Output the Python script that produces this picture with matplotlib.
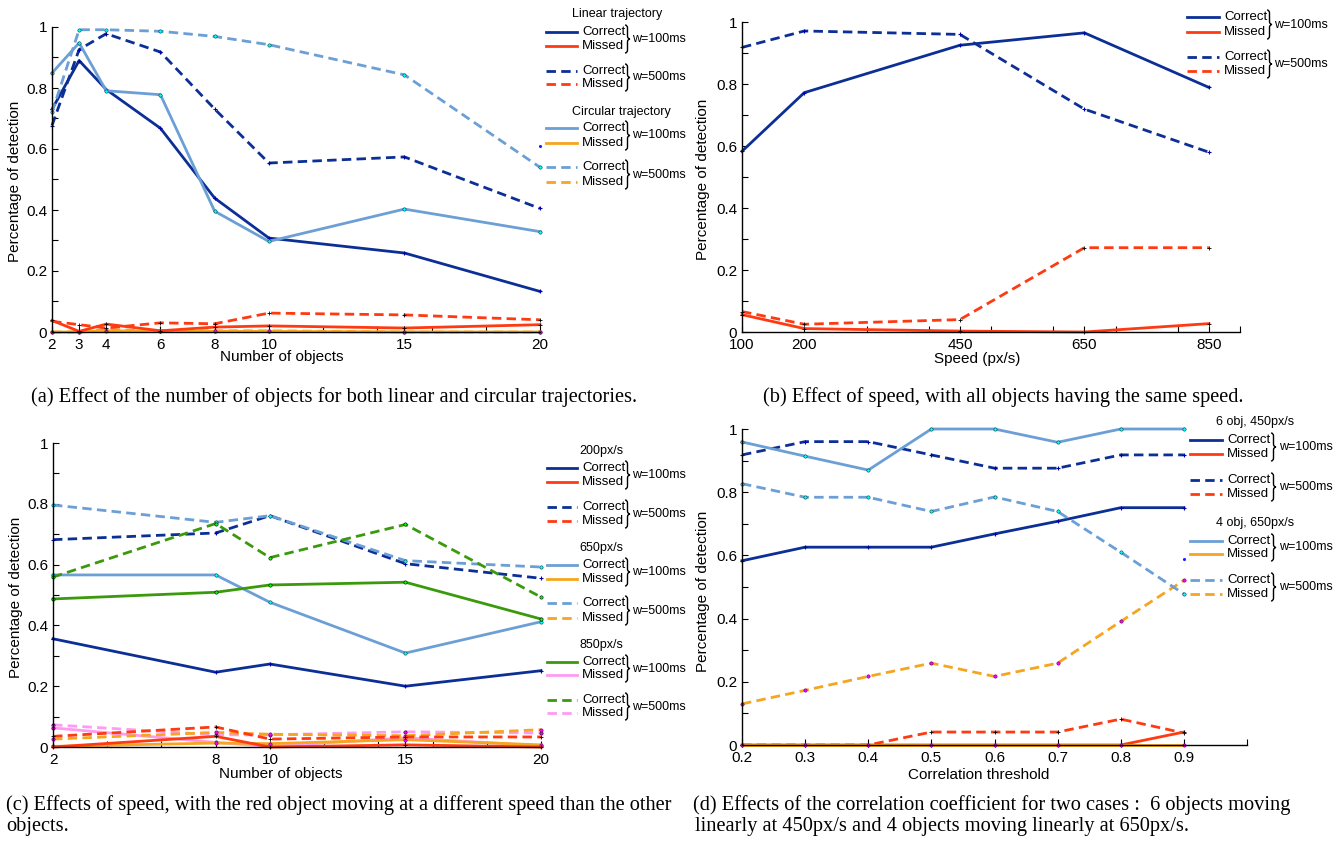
import matplotlib
matplotlib.use("Agg")
import matplotlib.pyplot as plt
from matplotlib.lines import Line2D
from matplotlib.patches import PathPatch
from matplotlib.path import Path as MPath
from matplotlib.transforms import Affine2D

W, H = 1344, 846

DARK_BLUE = "#0b2f95"
RED = "#ff3a12"
LIGHT_BLUE = "#6b9fd5"
ORANGE = "#f5a51f"
GREEN = "#3a9a0c"
PINK = "#ff9af2"
DASH = (0, (3.4, 1.9))

# (a) number of objects, linear / circular trajectory
A_X = [2, 3, 4, 6, 8, 10, 15, 20]
A_LIN_CORRECT_100 = [0.73, 0.89, 0.795, 0.668, 0.439, 0.308, 0.259, 0.133]
A_LIN_MISSED_100 = [0.038, 0.002, 0.026, 0.004, 0.016, 0.02, 0.013, 0.024]
A_LIN_CORRECT_500 = [0.677, 0.926, 0.978, 0.918, 0.731, 0.554, 0.574, 0.405]
A_LIN_MISSED_500 = [0.035, 0.024, 0.013, 0.03, 0.027, 0.062, 0.056, 0.04]
A_CIR_CORRECT_100 = [0.849, 0.948, 0.791, 0.778, 0.396, 0.297, 0.403, 0.329]
A_CIR_MISSED_100 = [0.0, 0.0, 0.004, 0.002, 0.002, 0.002, 0.0, 0.0]
A_CIR_CORRECT_500 = [0.72, 0.991, 0.991, 0.986, 0.969, 0.942, 0.843, 0.54]
A_CIR_MISSED_500 = [0.0, 0.0, 0.008, 0.004, 0.004, 0.004, 0.0, 0.0]
A_XTICKS = [2, 3, 4, 6, 8, 10, 15, 20]
A_XMINOR = [12, 14, 16, 18]

# (b) speed, all objects same speed
B_X = [100, 200, 450, 650, 850]
B_CORRECT_100 = [0.583, 0.772, 0.925, 0.965, 0.789]
B_MISSED_100 = [0.056, 0.011, 0.003, 0.0, 0.027]
B_CORRECT_500 = [0.918, 0.971, 0.96, 0.719, 0.58]
B_MISSED_500 = [0.066, 0.025, 0.04, 0.272, 0.272]
B_XTICKS = [100, 200, 450, 650, 850]
B_XMINOR = [300, 400, 500, 600, 700, 800, 900]

# (c) red object at a different speed
C_X = [2, 8, 10, 15, 20]
C_200_CORRECT_100 = [0.356, 0.246, 0.273, 0.2, 0.251]
C_200_MISSED_100 = [0.0, 0.035, 0.0, 0.007, 0.0]
C_200_CORRECT_500 = [0.682, 0.704, 0.761, 0.603, 0.555]
C_200_MISSED_500 = [0.035, 0.066, 0.026, 0.033, 0.033]
C_650_CORRECT_100 = [0.566, 0.566, 0.476, 0.309, 0.412]
C_650_MISSED_100 = [0.002, 0.013, 0.011, 0.024, 0.007]
C_650_CORRECT_500 = [0.796, 0.739, 0.761, 0.613, 0.592]
C_650_MISSED_500 = [0.026, 0.048, 0.042, 0.037, 0.057]
C_850_CORRECT_100 = [0.487, 0.509, 0.533, 0.542, 0.421]
C_850_MISSED_100 = [0.063, 0.015, 0.002, 0.03, 0.004]
C_850_CORRECT_500 = [0.559, 0.735, 0.623, 0.732, 0.493]
C_850_MISSED_500 = [0.073, 0.04, 0.04, 0.05, 0.046]
C_XTICKS = [2, 8, 10, 15, 20]
C_XMINOR = [4, 6, 12, 14, 16, 18]

# (d) correlation threshold
D_X = [0.2, 0.3, 0.4, 0.5, 0.6, 0.7, 0.8, 0.9]
D_6_CORRECT_100 = [0.583, 0.626, 0.626, 0.626, 0.668, 0.708, 0.751, 0.751]
D_6_MISSED_100 = [0.0, 0.0, 0.0, 0.0, 0.0, 0.0, 0.0, 0.041]
D_6_CORRECT_500 = [0.918, 0.96, 0.96, 0.918, 0.876, 0.876, 0.918, 0.918]
D_6_MISSED_500 = [0.0, 0.0, 0.0, 0.041, 0.041, 0.041, 0.082, 0.038]
D_4_CORRECT_100 = [0.959, 0.914, 0.87, 1.0, 1.0, 0.958, 1.0, 1.0]
D_4_MISSED_100 = [0.0, 0.0, 0.0, 0.0, 0.0, 0.0, 0.0, 0.0]
D_4_CORRECT_500 = [0.827, 0.784, 0.784, 0.739, 0.785, 0.739, 0.61, 0.478]
D_4_MISSED_500 = [0.13, 0.173, 0.217, 0.259, 0.217, 0.259, 0.391, 0.521]
D_XTICKS = [0.2, 0.3, 0.4, 0.5, 0.6, 0.7, 0.8, 0.9]
D_XMINOR = [1.0]

Y_TICKS = [0, 0.2, 0.4, 0.6, 0.8, 1]
Y_TICK_LABELS = ["0", "0.2", "0.4", "0.6", "0.8", "1"]
Y_MINOR = [0.1, 0.3, 0.5, 0.7, 0.9]

MARKERS = {
    DARK_BLUE: dict(marker="+", ms=3, mec="#0000b0", mew=0.8),
    RED: dict(marker="+", ms=3, mec="k", mew=0.6),
    LIGHT_BLUE: dict(marker="o", ms=2.4, mfc="#00ffff", mec="#004040", mew=0.4),
    ORANGE: dict(marker="o", ms=2.4, mfc="#ff00ff", mec="#600060", mew=0.4),
    GREEN: dict(marker="o", ms=2.4, mfc="#00ff00", mec="k", mew=0.4),
    PINK: dict(marker="o", ms=2.4, mfc="#ff00ff", mec="k", mew=0.4),
}


def add_axes_px(fig, left, top, right, bottom):
    return fig.add_axes([left / W, 1 - bottom / H, (right - left) / W, (bottom - top) / H])


def style_axes(ax, xlim, xticks, xlabels, xminor, xlabel, xlabel_xy, ylabel_xy, box):
    left, top, right, bottom = box
    ax.set_xlim(*xlim)
    ax.set_ylim(0, 1)
    ax.set_xticks(xticks)
    ax.set_xticklabels(xlabels)
    ax.set_xticks(xminor, minor=True)
    ax.set_yticks(Y_TICKS)
    ax.set_yticklabels(Y_TICK_LABELS)
    ax.set_yticks(Y_MINOR, minor=True)
    for side in ("top", "right"):
        ax.spines[side].set_visible(False)
    for side in ("left", "bottom"):
        ax.spines[side].set_linewidth(1.0)
    ax.tick_params(which="both", direction="in", length=4, width=0.8, labelsize=11)
    ax.tick_params(axis="x", pad=4.5)
    ax.tick_params(axis="y", pad=3.5)
    ax.set_xlabel(xlabel, fontsize=11)
    ax.set_ylabel("Percentage of detection", fontsize=11)
    ax.xaxis.set_label_coords((xlabel_xy[0] - left) / (right - left), (bottom - xlabel_xy[1]) / (bottom - top))
    ax.yaxis.set_label_coords((ylabel_xy[0] - left) / (right - left), (bottom - ylabel_xy[1]) / (bottom - top))
    ax.xaxis.label.set_va("center")
    ax.yaxis.label.set_va("center")
    ax.patch.set_visible(False)


def plot_series(ax, x, y, color, dashed):
    ax.plot(x, y, color=color, lw=2, ls=DASH if dashed else "-", clip_on=False, **MARKERS[color])


def draw_brace(fig, tr, x, y_top, y_bottom):
    mid = (y_top + y_bottom) / 2
    xs = x + 2.5
    verts = [
        (x, y_top), (xs, y_top), (xs, y_top + 3),
        (xs, mid - 3),
        (xs, mid), (x + 5, mid),
        (xs, mid), (xs, mid + 3),
        (xs, y_bottom - 3),
        (xs, y_bottom), (x, y_bottom),
    ]
    codes = [
        MPath.MOVETO, MPath.CURVE3, MPath.CURVE3,
        MPath.LINETO,
        MPath.CURVE3, MPath.CURVE3,
        MPath.CURVE3, MPath.CURVE3,
        MPath.LINETO,
        MPath.CURVE3, MPath.CURVE3,
    ]
    fig.patches.append(PathPatch(MPath(verts, codes), fill=False, lw=1.0, ec="k", transform=tr))


def draw_legend(fig, tr, xs, titles, pairs):
    x_line0, x_line1, x_text, x_brace, x_w, x_title = xs
    for title, y in titles:
        fig.text(x_title, y, title, transform=tr, fontsize=9, va="center", ha="left")
    for y_correct, y_missed, c_correct, c_missed, dashed, window in pairs:
        ls = DASH if dashed else "-"
        for y, color, label in ((y_correct, c_correct, "Correct"), (y_missed, c_missed, "Missed")):
            fig.lines.append(Line2D([x_line0, x_line1], [y, y], color=color, lw=2, ls=ls, transform=tr))
            fig.text(x_text, y, label, transform=tr, fontsize=9.5, va="center", ha="left")
        draw_brace(fig, tr, x_brace, y_correct - 7, y_missed + 7)
        fig.text(x_w, (y_correct + y_missed) / 2, window, transform=tr, fontsize=9, va="center", ha="left")


def main():
    plt.rcParams["font.family"] = ["Liberation Sans", "DejaVu Sans"]
    fig = plt.figure(figsize=(W / 100, H / 100), dpi=100)
    tr = Affine2D().scale(1 / W, -1 / H).translate(0, 1) + fig.transFigure

    # (a)
    box = (52, 27, 540, 332)
    ax = add_axes_px(fig, *box)
    plot_series(ax, A_X, A_CIR_MISSED_500, ORANGE, True)
    plot_series(ax, A_X, A_CIR_MISSED_100, ORANGE, False)
    plot_series(ax, A_X, A_LIN_MISSED_500, RED, True)
    plot_series(ax, A_X, A_LIN_MISSED_100, RED, False)
    plot_series(ax, A_X, A_LIN_CORRECT_500, DARK_BLUE, True)
    plot_series(ax, A_X, A_LIN_CORRECT_100, DARK_BLUE, False)
    plot_series(ax, A_X, A_CIR_CORRECT_500, LIGHT_BLUE, True)
    plot_series(ax, A_X, A_CIR_CORRECT_100, LIGHT_BLUE, False)
    ax.plot([20], [0.609], ".", color="#2020ff", ms=2.5, clip_on=False)
    style_axes(ax, (2, 20), A_XTICKS, [str(v) for v in A_XTICKS], A_XMINOR,
               "Number of objects", (282, 357), (15, 181), box)
    draw_legend(fig, tr, (546, 577, 582, 625, 632, 572),
                [("Linear trajectory", 14), ("Circular trajectory", 112)],
                [(32, 46, DARK_BLUE, RED, False, "w=100ms"),
                 (71, 84, DARK_BLUE, RED, True, "w=500ms"),
                 (128, 143, LIGHT_BLUE, ORANGE, False, "w=100ms"),
                 (167, 182, LIGHT_BLUE, ORANGE, True, "w=500ms")])

    # (b)
    box = (742, 22, 1240, 332)
    ax = add_axes_px(fig, *box)
    plot_series(ax, B_X, B_MISSED_500, RED, True)
    plot_series(ax, B_X, B_MISSED_100, RED, False)
    plot_series(ax, B_X, B_CORRECT_500, DARK_BLUE, True)
    plot_series(ax, B_X, B_CORRECT_100, DARK_BLUE, False)
    style_axes(ax, (100, 900), B_XTICKS, [str(v) for v in B_XTICKS], B_XMINOR,
               "Speed (px/s)", (977, 359), (703, 179), box)
    draw_legend(fig, tr, (1187, 1219, 1224, 1267, 1274, 1224), [],
                [(17, 32, DARK_BLUE, RED, False, "w=100ms"),
                 (57, 71, DARK_BLUE, RED, True, "w=500ms")])

    # (c)
    box = (53, 443, 541, 747)
    ax = add_axes_px(fig, *box)
    plot_series(ax, C_X, C_850_MISSED_500, PINK, True)
    plot_series(ax, C_X, C_850_MISSED_100, PINK, False)
    plot_series(ax, C_X, C_650_MISSED_500, ORANGE, True)
    plot_series(ax, C_X, C_650_MISSED_100, ORANGE, False)
    plot_series(ax, C_X, C_200_MISSED_500, RED, True)
    plot_series(ax, C_X, C_200_MISSED_100, RED, False)
    plot_series(ax, C_X, C_200_CORRECT_100, DARK_BLUE, False)
    plot_series(ax, C_X, C_650_CORRECT_100, LIGHT_BLUE, False)
    plot_series(ax, C_X, C_850_CORRECT_100, GREEN, False)
    plot_series(ax, C_X, C_200_CORRECT_500, DARK_BLUE, True)
    plot_series(ax, C_X, C_650_CORRECT_500, LIGHT_BLUE, True)
    plot_series(ax, C_X, C_850_CORRECT_500, GREEN, True)
    style_axes(ax, (2, 20), C_XTICKS, [str(v) for v in C_XTICKS], C_XMINOR,
               "Number of objects", (281, 774), (16, 597), box)
    draw_legend(fig, tr, (547, 577, 582, 625, 632, 579),
                [("200px/s", 451), ("650px/s", 548), ("850px/s", 645)],
                [(468, 482, DARK_BLUE, RED, False, "w=100ms"),
                 (507, 521, DARK_BLUE, RED, True, "w=500ms"),
                 (565, 579, LIGHT_BLUE, ORANGE, False, "w=100ms"),
                 (603, 618, LIGHT_BLUE, ORANGE, True, "w=500ms"),
                 (662, 675, GREEN, PINK, False, "w=100ms"),
                 (700, 713, GREEN, PINK, True, "w=500ms")])

    # (d)
    box = (742, 429, 1247, 745)
    ax = add_axes_px(fig, *box)
    plot_series(ax, D_X, D_4_MISSED_500, ORANGE, True)
    plot_series(ax, D_X, D_6_MISSED_500, RED, True)
    plot_series(ax, D_X, D_6_MISSED_100, RED, False)
    plot_series(ax, D_X, D_4_MISSED_100, ORANGE, False)
    plot_series(ax, D_X, D_6_CORRECT_100, DARK_BLUE, False)
    plot_series(ax, D_X, D_6_CORRECT_500, DARK_BLUE, True)
    plot_series(ax, D_X, D_4_CORRECT_500, LIGHT_BLUE, True)
    plot_series(ax, D_X, D_4_CORRECT_100, LIGHT_BLUE, False)
    ax.plot([0.9], [0.59], ".", color="#2020ff", ms=2.5, clip_on=False)
    style_axes(ax, (0.2, 1.0), D_XTICKS, [f"{v:.1f}" for v in D_XTICKS], D_XMINOR,
               "Correlation threshold", (979, 775), (703, 591), box)
    draw_legend(fig, tr, (1190, 1222, 1227, 1271, 1279, 1216),
                [("6 obj, 450px/s", 422), ("4 obj, 650px/s", 523)],
                [(440, 454, DARK_BLUE, RED, False, "w=100ms"),
                 (480, 494, DARK_BLUE, RED, True, "w=500ms"),
                 (541, 554, LIGHT_BLUE, ORANGE, False, "w=100ms"),
                 (580, 594, LIGHT_BLUE, ORANGE, True, "w=500ms")])

    # captions
    serif = dict(transform=tr, fontsize=14.7, family="Liberation Serif", va="center", ha="left")
    fig.text(31, 397, "(a) Effect of the number of objects for both linear and circular trajectories.", **serif)
    fig.text(763, 397, "(b) Effect of speed, with all objects having the same speed.", **serif)
    fig.text(6, 805, "(c) Effects of speed, with the red object moving at a different speed than the other", **serif)
    fig.text(6, 826, "objects.", **serif)
    fig.text(693, 805, "(d) Effects of the correlation coefficient for two cases :  6 objects moving", **serif)
    fig.text(695, 826, "linearly at 450px/s and 4 objects moving linearly at 650px/s.", **serif)

    fig.savefig("out.png", dpi=100)
    plt.close(fig)


if __name__ == "__main__":
    main()
